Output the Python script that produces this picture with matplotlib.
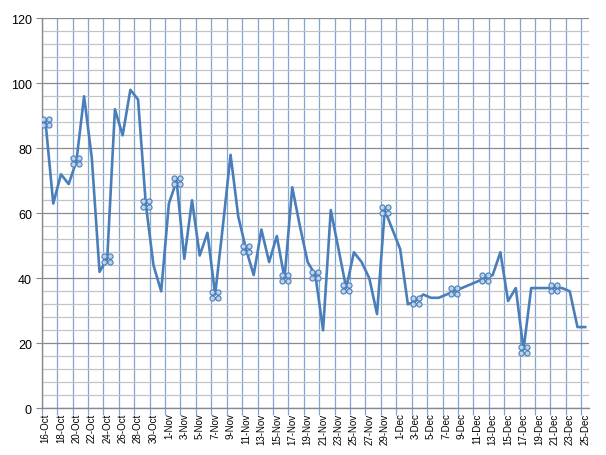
import numpy as np
import pandas as pd
import matplotlib
matplotlib.use("Agg")
import matplotlib.pyplot as plt
from matplotlib.path import Path
from matplotlib.ticker import MultipleLocator, FixedLocator

# daily values, 16 Oct .. 25 Dec
dates = pd.date_range("2012-10-16", "2012-12-25", freq="D")
values = [88, 63, 72, 69, 76, 96, 77, 42, 46, 92,
          84, 98, 95, 63, 44, 36, 63, 70, 46, 64,
          47, 54, 35, 56, 78, 59, 49, 41, 55, 45,
          53, 40, 68, 56, 45, 41, 24, 61, 49, 37,
          48, 45, 40, 29, 61, 55, 49, 32, 33, 35,
          34, 34, 35, 36, 37, 38, 39, 40, 41, 48,
          33, 37, 18, 37, 37, 37, 37, 37, 36, 25,
          25]
# days that carry a marker
marked_days = [0, 4, 8, 13, 17, 22, 26, 31, 35, 39, 44, 48, 53, 57, 62, 66]

labels = [f"{d.day}-{d.strftime('%b')}" for d in dates]
x = np.arange(len(values))

# four-circle marker
circ = Path.unit_circle()
parts = [Path(circ.vertices + [dx, dy], circ.codes)
         for dx in (-1.15, 1.15) for dy in (-1.15, 1.15)]
clover = Path.make_compound_path(*parts)

fig = plt.figure(figsize=(6.06, 4.56), dpi=100)
ax = fig.add_axes([0.0688, 0.1024, 0.9032, 0.8553])

ax.plot(x, values, color="#4A7EBB", lw=1.9, solid_joinstyle="round",
        marker=clover, markevery=marked_days, markersize=8,
        markerfacecolor="#BDD3EA", markeredgecolor="#4A7EBB", markeredgewidth=0.8,
        zorder=3)

ax.set_xlim(-0.5, len(values) - 0.5)
ax.set_ylim(0, 120)

ax.yaxis.set_major_locator(MultipleLocator(20))
ax.yaxis.set_minor_locator(MultipleLocator(4))
ax.xaxis.set_major_locator(FixedLocator(x[::2]))
ax.set_xticklabels(labels[::2], rotation=90, fontsize=7, family="Liberation Sans")
ax.xaxis.set_minor_locator(FixedLocator(np.arange(-0.5, len(values), 2)))

ax.grid(axis="y", which="major", color="#8A8A8A", lw=0.9, zorder=0)
ax.grid(axis="y", which="minor", color="#C4C4C4", lw=0.9, zorder=0)
ax.grid(axis="x", which="minor", color="#7FA5D5", lw=0.9, zorder=0)
ax.xaxis.grid(False, which="major")
ax.set_axisbelow(True)

ax.tick_params(axis="x", which="major", length=0, pad=3)
ax.tick_params(axis="x", which="minor", length=5, color="#7FA5D5", width=0.9)
ax.tick_params(axis="y", which="major", length=4, color="#8A8A8A", labelsize=9, pad=3)
ax.tick_params(axis="y", which="minor", length=0)
for t in ax.get_yticklabels():
    t.set_family("Liberation Sans")

for side in ("top", "right"):
    ax.spines[side].set_visible(False)
for side in ("left", "bottom"):
    ax.spines[side].set_color("#8A8A8A")
    ax.spines[side].set_linewidth(1.0)

fig.savefig("out.png", dpi=100)
